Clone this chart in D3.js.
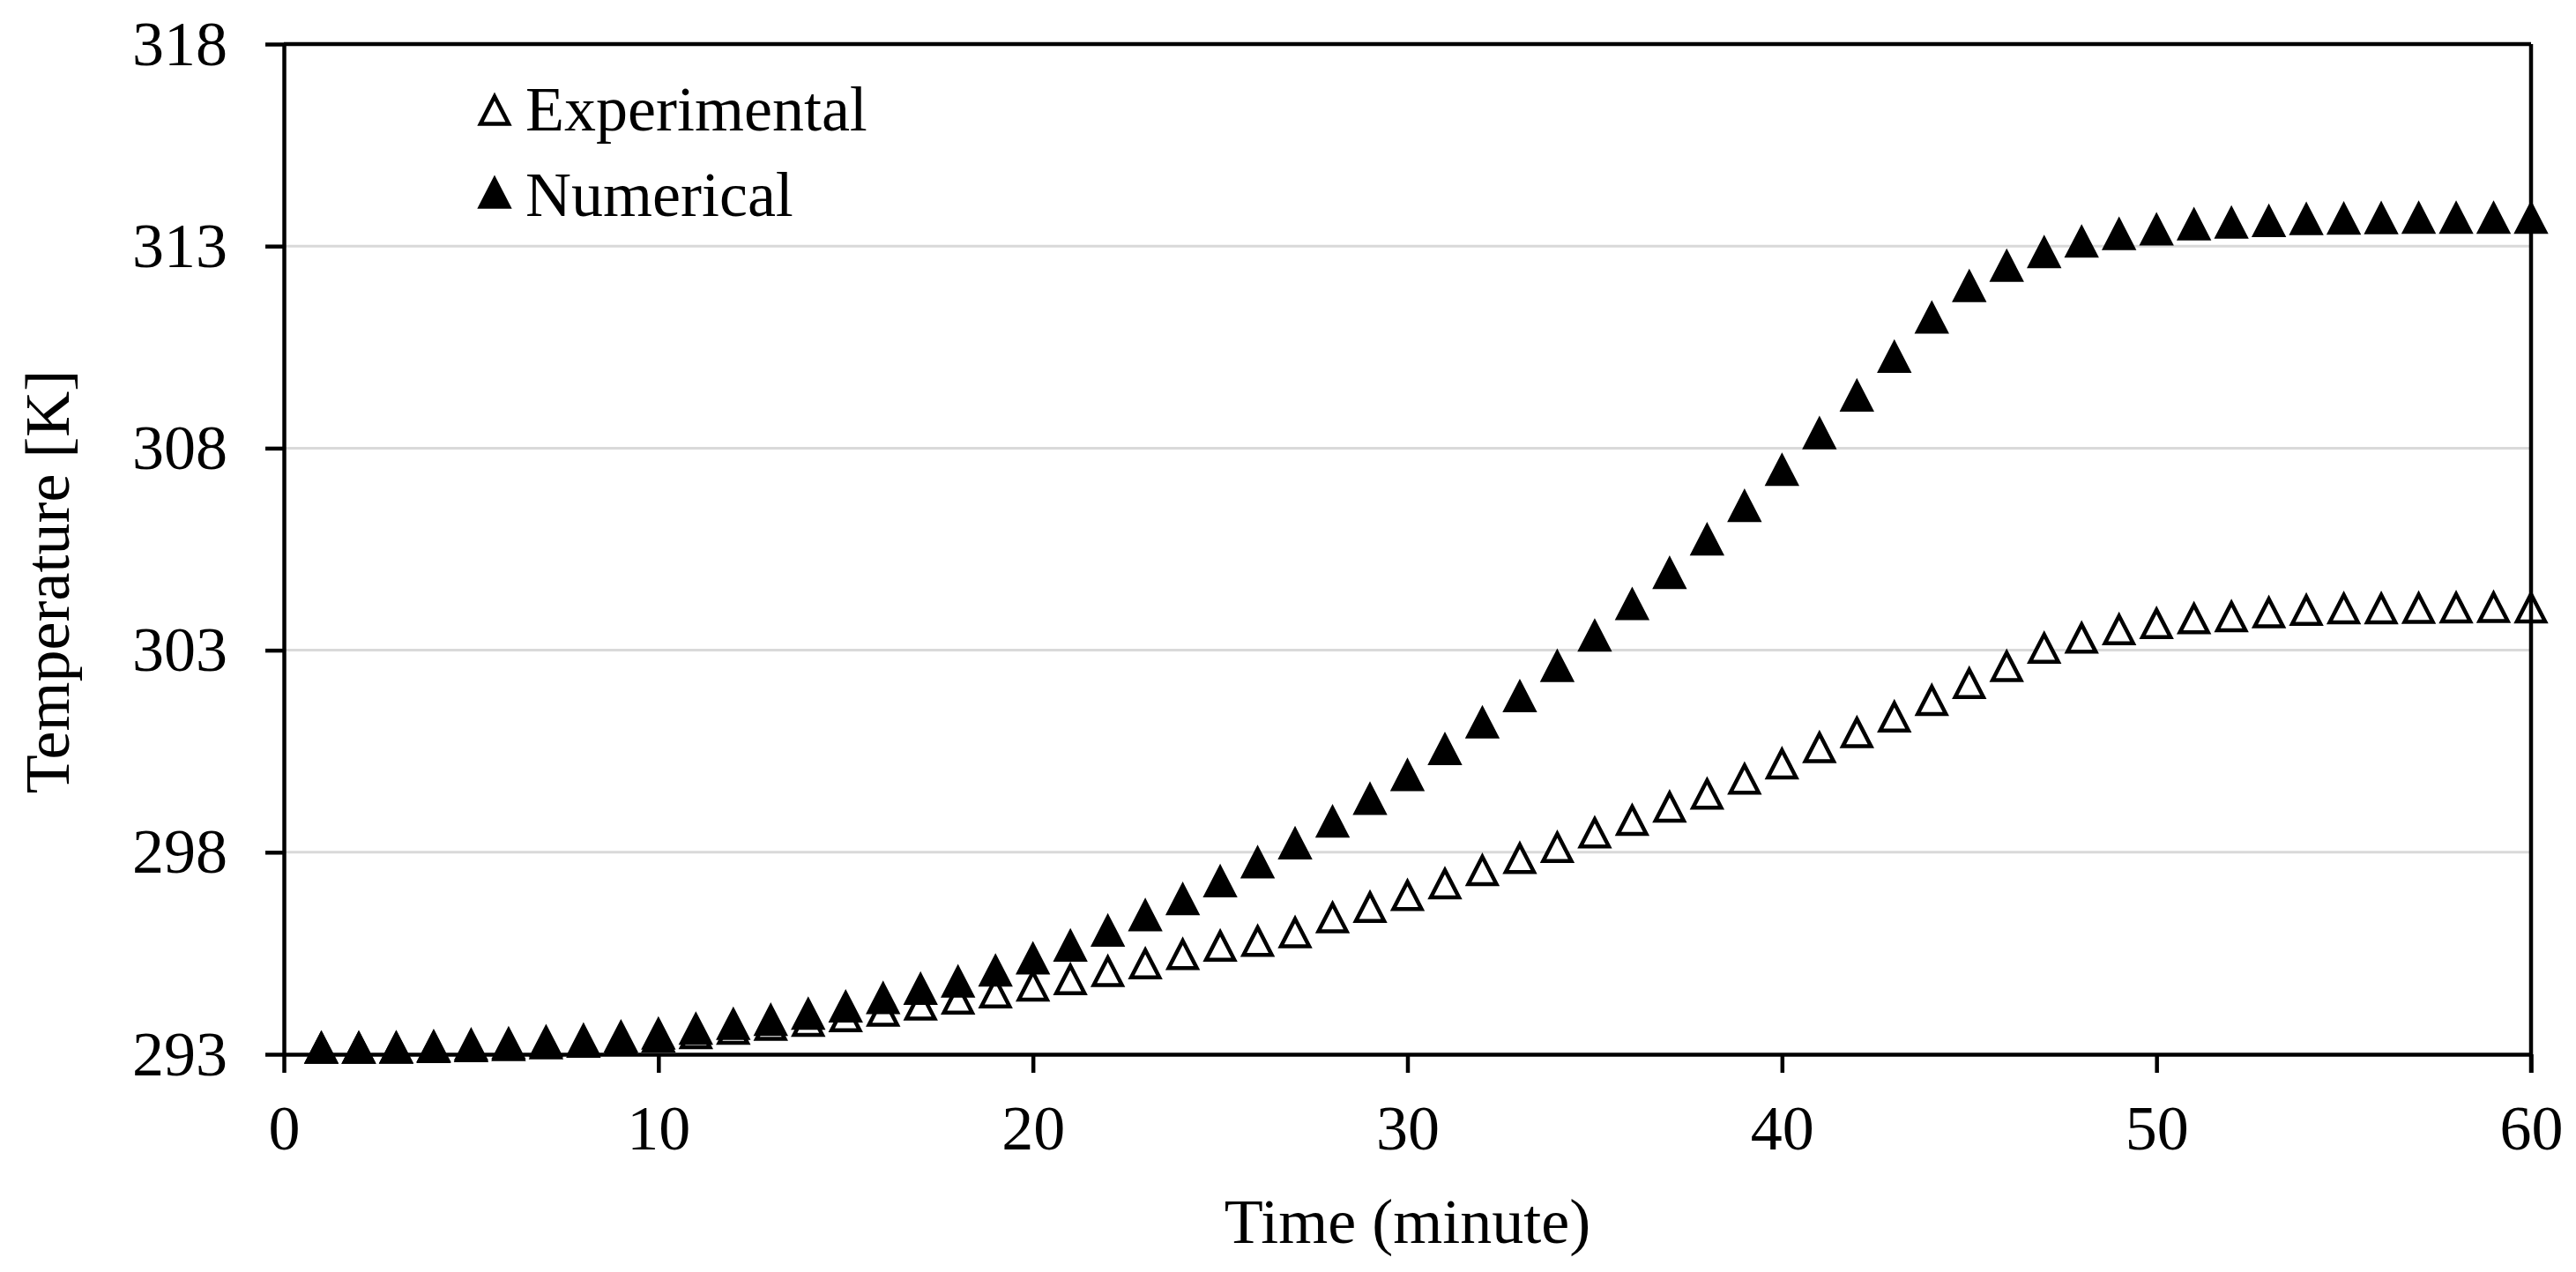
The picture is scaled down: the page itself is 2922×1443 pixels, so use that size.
<!DOCTYPE html>
<html>
<head>
<meta charset="utf-8">
<script src="https://cdn.jsdelivr.net/npm/d3@7/dist/d3.min.js"></script>
<style>
html, body { margin: 0; padding: 0; background: #fff; }
svg { display: block; }
</style>
</head>
<body>
<svg id="chart" width="2922" height="1443"></svg>
<script>
// ---------- data ----------
const timeMinutes = [1,2,3,4,5,6,7,8,9,10,11,12,13,14,15,16,17,18,19,20,
  21,22,23,24,25,26,27,28,29,30,31,32,33,34,35,36,37,38,39,40,
  41,42,43,44,45,46,47,48,49,50,51,52,53,54,55,56,57,58,59,60];

const experimental = [293.15,293.15,293.15,293.17,293.19,293.22,293.26,293.30,293.36,293.43,
  293.51,293.62,293.72,293.82,293.93,294.07,294.22,294.37,294.52,294.69,
  294.85,295.05,295.24,295.47,295.68,295.80,296.01,296.38,296.64,296.93,
  297.22,297.55,297.85,298.12,298.48,298.79,299.12,299.44,299.81,300.19,
  300.59,300.96,301.35,301.76,302.18,302.60,303.05,303.30,303.51,303.66,
  303.78,303.83,303.93,303.99,304.03,304.03,304.04,304.05,304.06,304.05];

const numerical = [293.15,293.15,293.16,293.19,293.23,293.26,293.31,293.35,293.43,293.50,
  293.62,293.74,293.84,293.99,294.17,294.38,294.61,294.79,295.06,295.36,
  295.68,296.05,296.43,296.83,297.27,297.74,298.21,298.75,299.31,299.90,
  300.54,301.20,301.85,302.60,303.35,304.13,304.90,305.73,306.56,307.45,
  308.36,309.29,310.25,311.22,312.00,312.50,312.84,313.10,313.29,313.40,
  313.53,313.57,313.61,313.66,313.67,313.68,313.69,313.69,313.69,313.69];

const xTicks = [0,10,20,30,40,50,60];
const yTicks = [293,298,303,308,313,318];
const seriesNames = ["Experimental","Numerical"];

// ---------- layout ----------
(function () {
const FONT = "'Liberation Serif','Times New Roman',Times,serif";
const FS = 72;
const svg = d3.select("#chart");
const pLeft = 322, pRight = 2871, pTop = 50, pBottom = 1196;

const x = d3.scaleLinear().domain([0, 60]).range([pLeft, pRight]);
const y = d3.scaleLinear().domain([293, 318]).range([pBottom, pTop]);

// gridlines
svg.append("g").selectAll("line")
  .data(yTicks.filter(v => v !== 293 && v !== 318))
  .join("line")
  .attr("x1", pLeft).attr("x2", pRight)
  .attr("y1", d => y(d)).attr("y2", d => y(d))
  .attr("stroke", "#d9d9d9").attr("stroke-width", 3);

// triangle marker path centered on its bounding box
const TW = 32, TH = 31;
const tri = `M0,${-TH/2}L${TW/2},${TH/2}L${-TW/2},${TH/2}Z`;

// experimental (hollow) first, numerical (filled) on top
svg.append("g").selectAll("path")
  .data(timeMinutes.map((t, i) => [t, experimental[i]]))
  .join("path")
  .attr("d", tri)
  .attr("transform", d => `translate(${x(d[0])},${y(d[1])})`)
  .attr("fill", "#fff").attr("stroke", "#000").attr("stroke-width", 4.5);

svg.append("g").selectAll("path")
  .data(timeMinutes.map((t, i) => [t, numerical[i]]))
  .join("path")
  .attr("d", tri)
  .attr("transform", d => `translate(${x(d[0])},${y(d[1])})`)
  .attr("fill", "#000").attr("stroke", "#000").attr("stroke-width", 4.5);

// axes
const xAxis = d3.axisBottom(x).tickValues(xTicks).tickSize(21).tickSizeOuter(0).tickPadding(36)
  .tickFormat(d3.format("d"));
const yAxis = d3.axisLeft(y).tickValues(yTicks).tickSize(21).tickSizeOuter(0).tickPadding(43)
  .tickFormat(d3.format("d"));

const gx = svg.append("g").attr("transform", `translate(0,${pBottom})`).call(xAxis);
const gy = svg.append("g").attr("transform", `translate(${pLeft},0)`).call(yAxis);
[gx, gy].forEach(g => {
  g.selectAll("path.domain").attr("stroke", "#000").attr("stroke-width", 4.5);
  g.selectAll(".tick line").attr("stroke", "#000").attr("stroke-width", 4.5);
  g.selectAll(".tick text").attr("font-family", FONT).attr("font-size", FS).attr("fill", "#000");
});

// frame: top and right border
svg.append("line").attr("x1", pLeft).attr("x2", pRight).attr("y1", y(318)).attr("y2", y(318))
  .attr("stroke", "#000").attr("stroke-width", 4.5);
svg.append("line").attr("x1", pRight).attr("x2", pRight).attr("y1", y(318)).attr("y2", y(293) + 21)
  .attr("stroke", "#000").attr("stroke-width", 4.5);

// axis titles
svg.append("text").text("Time (minute)")
  .attr("x", (pLeft + pRight) / 2).attr("y", 1410)
  .attr("text-anchor", "middle").attr("font-family", FONT).attr("font-size", FS);
svg.append("text").text("Temperature [K]")
  .attr("transform", "translate(78,660) rotate(-90)")
  .attr("text-anchor", "middle").attr("font-family", FONT).attr("font-size", FS);

// legend
const legendRows = [
  {name: seriesNames[0], fill: "#fff", cy: 125, base: 148},
  {name: seriesNames[1], fill: "#000", cy: 219, base: 245}
];
const lg = svg.append("g");
lg.selectAll("path").data(legendRows).join("path")
  .attr("d", tri)
  .attr("transform", d => `translate(561,${d.cy})`)
  .attr("fill", d => d.fill).attr("stroke", "#000").attr("stroke-width", 4.5);
lg.selectAll("text").data(legendRows).join("text")
  .text(d => d.name)
  .attr("x", 596).attr("y", d => d.base)
  .attr("font-family", FONT).attr("font-size", FS);
})();
</script>
</body>
</html>
